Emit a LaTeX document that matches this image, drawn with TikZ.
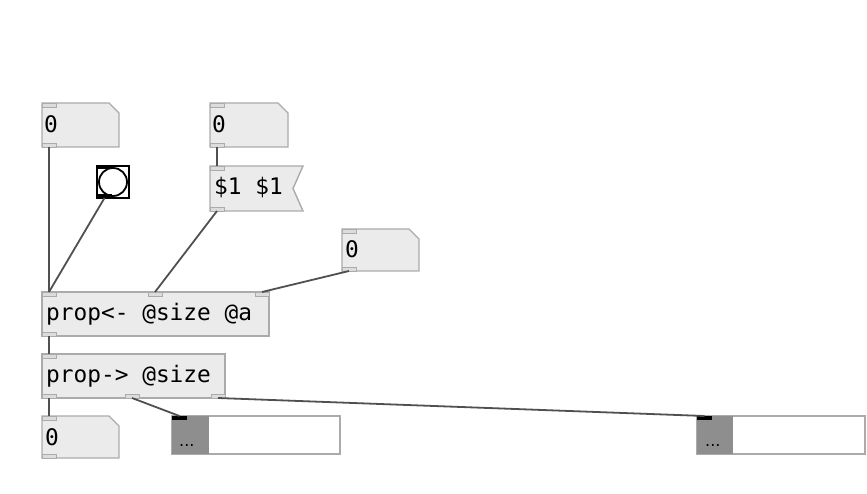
\documentclass[tikz,border=0pt]{standalone}
\usepackage{fontspec}
\newfontfamily\pdmono{DejaVu Sans Mono}
\newfontfamily\pdsans{DejaVu Sans}
\definecolor{boxfill}{HTML}{EBEBEB}
\definecolor{boxline}{HTML}{ABABAB}
\definecolor{tabfill}{HTML}{DCDCDC}
\definecolor{wirecol}{HTML}{505050}
\definecolor{listdark}{HTML}{8E8E8E}
\begin{document}
\begin{tikzpicture}[x=1pt,y=-1pt,
  obj/.style={rectangle, inner sep=0pt, outer sep=0pt, anchor=north west, draw=none},
  pdbox/.style={fill=boxfill, draw=boxline, line width=1.4pt},
  tabin/.style={rectangle, inner sep=0pt, outer sep=0pt, anchor=north west, minimum width=14pt, minimum height=4pt, fill=tabfill, draw=boxline, line width=0.9pt},
  tabout/.style={tabin, anchor=south west},
  btab/.style={rectangle, inner sep=0pt, outer sep=0pt, minimum width=15pt, minimum height=3.5pt, fill=black, draw=none},
  wire/.style={draw=wirecol, line width=1.8pt},
  lbl/.style={anchor=base west, inner sep=0pt, font=\pdmono\fontsize{22.8}{26}\selectfont},
  dots/.style={anchor=base west, inner sep=0pt, font=\pdsans\fontsize{16}{18}\selectfont}
]
\useasboundingbox[fill=white] (0,0) rectangle (867,494);

% ---------- number box 1
\node[obj, minimum width=77pt, minimum height=44pt] (n1) at (42,103) {};
\path[pdbox] (n1.north west) -- ([xshift=-10pt]n1.north east) -- ([yshift=-10pt]n1.north east) -- (n1.south east) -- (n1.south west) -- cycle;
\node[tabin] (n1i) at (n1.north west) {};
\node[tabout] (n1o) at (n1.south west) {};
\node[lbl] (n1t) at (44,133) {0};

% ---------- number box 2
\node[obj, minimum width=78pt, minimum height=44pt] (n2) at (210,103) {};
\path[pdbox] (n2.north west) -- ([xshift=-10pt]n2.north east) -- ([yshift=-10pt]n2.north east) -- (n2.south east) -- (n2.south west) -- cycle;
\node[tabin] (n2i) at (n2.north west) {};
\node[tabout] (n2o) at (n2.south west) {};
\node[lbl] (n2t) at (212,133) {0};

% ---------- message box
\node[obj, minimum width=93pt, minimum height=45pt] (msg) at (210,166) {};
\path[pdbox] (msg.north west) -- (msg.north east) -- ([xshift=-10pt]msg.east) -- (msg.south east) -- (msg.south west) -- cycle;
\node[tabin] (msgi) at (msg.north west) {};
\node[tabout] (msgo) at (msg.south west) {};
\node[lbl] (msgt) at (214,195) {\$1 \$1};

% ---------- bang
\node[obj, minimum width=32pt, minimum height=32pt] (bng) at (97,166) {};
\path[fill=white, draw=black, line width=1.8pt] (bng.north west) rectangle (bng.south east);
\draw[black, line width=1.8pt] (bng.center) circle (14pt);
\node[btab, anchor=north west] (bngi) at (bng.north west) {};
\node[btab, anchor=south west] (bngo) at (bng.south west) {};

% ---------- number box 3
\node[obj, minimum width=77pt, minimum height=42pt] (n3) at (342,229) {};
\path[pdbox] (n3.north west) -- ([xshift=-10pt]n3.north east) -- ([yshift=-10pt]n3.north east) -- (n3.south east) -- (n3.south west) -- cycle;
\node[tabin] (n3i) at (n3.north west) {};
\node[tabout] (n3o) at (n3.south west) {};
\node[lbl] (n3t) at (345,258) {0};

% ---------- prop<- @size @a
\node[obj, minimum width=227pt, minimum height=44pt] (pa) at (42,292) {};
\path[pdbox] (pa.north west) rectangle (pa.south east);
\node[tabin] (pai0) at (pa.north west) {};
\node[tabin] (pai1) at ([xshift=106pt]pa.north west) {};
\node[tabin, anchor=north east] (pai2) at (pa.north east) {};
\node[tabout] (pao) at (pa.south west) {};
\node[lbl] (pat) at (46,320) {prop<- @size @a};

% ---------- prop-> @size
\node[obj, minimum width=183pt, minimum height=44pt] (pb) at (42,354) {};
\path[pdbox] (pb.north west) rectangle (pb.south east);
\node[tabin] (pbi) at (pb.north west) {};
\node[tabout] (pbo0) at (pb.south west) {};
\node[tabout] (pbo1) at ([xshift=83pt]pb.south west) {};
\node[tabout, anchor=south east] (pbo2) at (pb.south east) {};
\node[lbl] (pbt) at (46,382) {prop-> @size};

% ---------- number box 4
\node[obj, minimum width=77pt, minimum height=42pt] (n4) at (42,416) {};
\path[pdbox] (n4.north west) -- ([xshift=-10pt]n4.north east) -- ([yshift=-10pt]n4.north east) -- (n4.south east) -- (n4.south west) -- cycle;
\node[tabin] (n4i) at (n4.north west) {};
\node[tabout] (n4o) at (n4.south west) {};
\node[lbl] (n4t) at (45,445) {0};

% ---------- list box 1
\node[obj, minimum width=168pt, minimum height=38pt] (l1) at (172,416) {};
\path[fill=white, draw=boxline, line width=1.4pt] (l1.north west) rectangle (l1.south east);
\path[fill=listdark] (l1.north west) rectangle ([xshift=37pt]l1.south west);
\node[btab, anchor=north west] (l1i) at (l1.north west) {};
\node[dots] (l1t) at (179,446) {...};

% ---------- list box 2
\node[obj, minimum width=168pt, minimum height=38pt] (l2) at (697,416) {};
\path[fill=white, draw=boxline, line width=1.4pt] (l2.north west) rectangle (l2.south east);
\path[fill=listdark] (l2.north west) rectangle ([xshift=36pt]l2.south west);
\node[btab, anchor=north west] (l2i) at (l2.north west) {};
\node[dots] (l2t) at (705,446) {...};

% ---------- wires
\draw[wire] (n1o.south) -- (pai0.north);
\draw[wire] (bngo.south) -- (pai0.north);
\draw[wire] (n2o.south) -- (msgi.north);
\draw[wire] (msgo.south) -- (pai1.north);
\draw[wire] (n3o.south) -- (pai2.north);
\draw[wire] (pao.south) -- (pbi.north);
\draw[wire] (pbo0.south) -- (n4i.north);
\draw[wire] (pbo1.south) -- (l1i.north);
\draw[wire] (pbo2.south) -- (l2i.north);
\end{tikzpicture}
\end{document}
